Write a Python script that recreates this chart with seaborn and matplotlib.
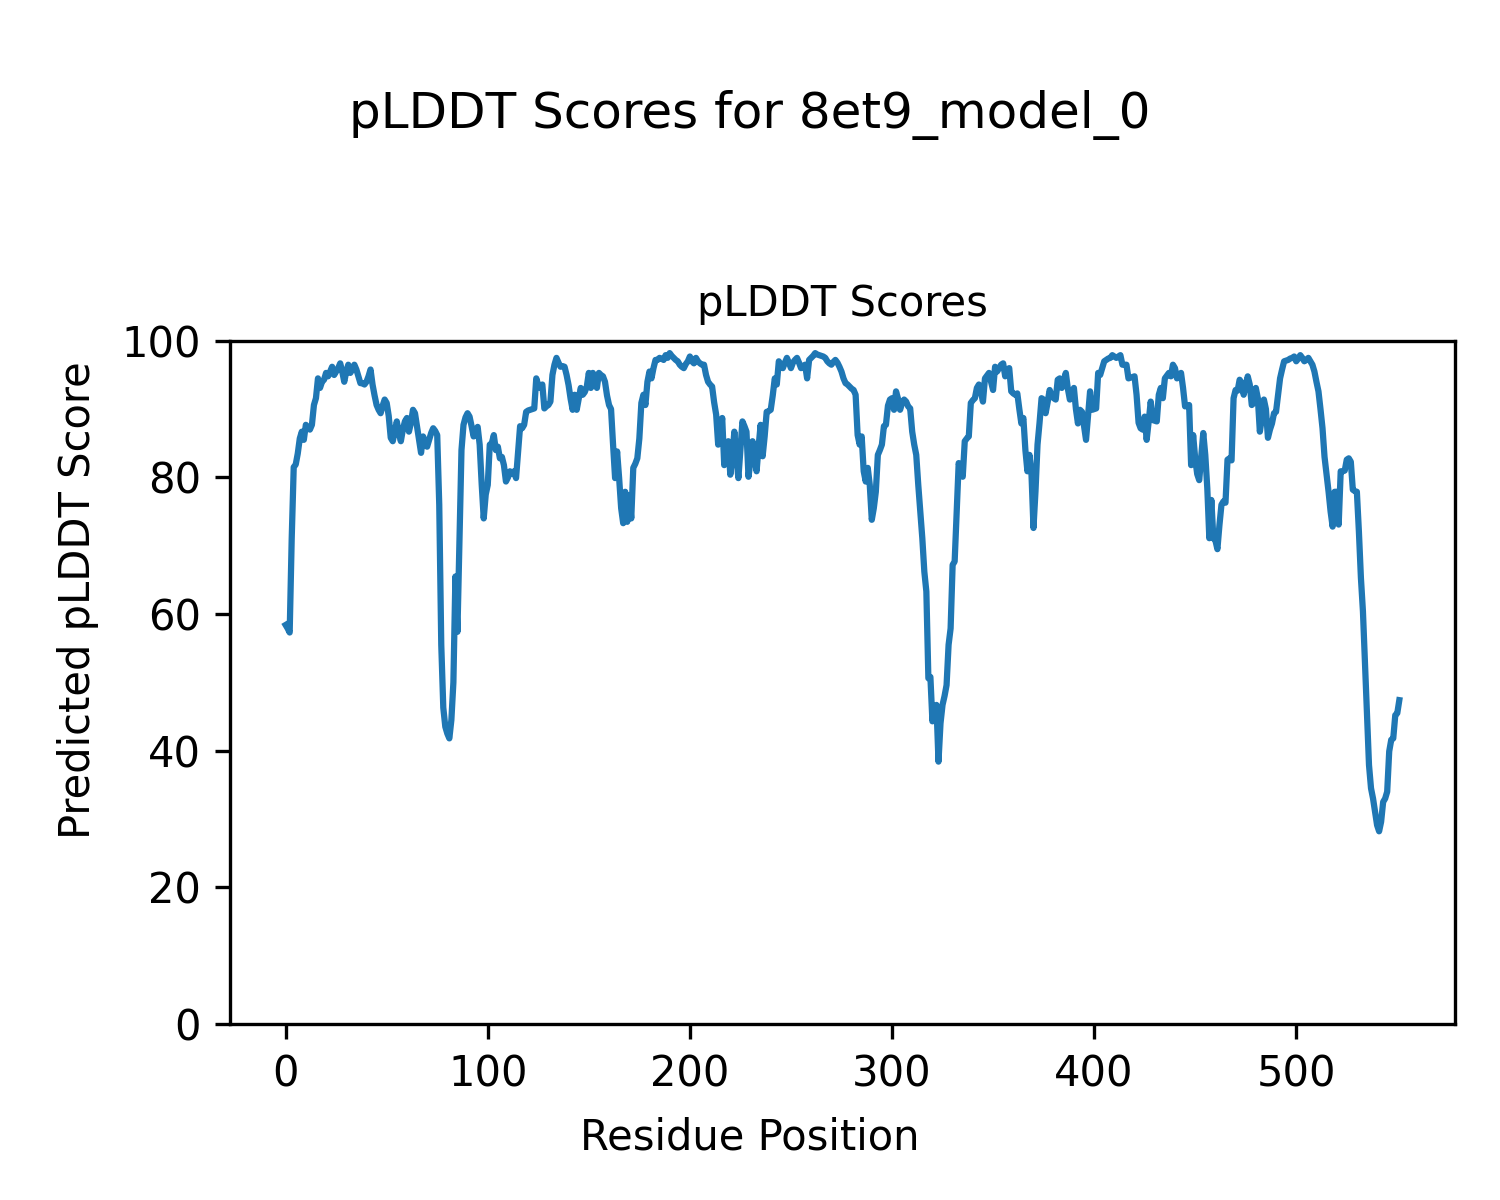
import matplotlib
matplotlib.use('Agg')

import seaborn as sns
import matplotlib.pyplot as plt

model_name = "8et9_model_0"

# pLDDT per residue
scores = [
    58.4, 57.9, 57.3, 71.0, 81.5, 81.9, 83.5, 85.7, 86.7, 85.5,
    87.7, 87.3, 87.0, 87.7, 90.6, 91.6, 94.5, 93.1, 94.0, 94.3,
    95.3, 94.8, 95.5, 96.2, 95.0, 95.5, 96.0, 96.7, 95.5, 94.0,
    95.5, 96.5, 95.3, 95.8, 96.5, 95.8, 94.8, 93.8, 93.8, 93.6,
    94.0, 94.8, 95.8, 93.6, 92.0, 90.6, 89.9, 89.4, 90.5, 91.4,
    90.9, 89.0, 85.8, 85.3, 86.8, 88.2, 86.5, 85.3, 87.0, 88.2,
    88.7, 86.7, 88.0, 89.9, 89.4, 87.5, 85.5, 83.6, 86.0, 85.2,
    84.5, 85.5, 86.5, 87.2, 86.8, 86.2, 76.0, 55.5, 46.3, 43.5,
    42.5, 41.8, 44.5, 50.0, 65.5, 57.4, 70.5, 84.0, 87.7, 88.8,
    89.4, 88.9, 87.5, 86.0, 86.8, 87.4, 84.8, 79.0, 74.0, 77.5,
    78.9, 84.8, 85.0, 86.2, 84.0, 84.5, 82.8, 83.0, 81.8, 79.4,
    80.0, 80.9, 80.5, 80.9, 79.9, 83.8, 87.5, 87.2, 87.7, 89.6,
    89.8, 89.9, 90.0, 90.1, 94.5, 93.5, 93.1, 93.6, 90.1, 90.4,
    90.6, 91.1, 95.0, 96.5, 97.5, 96.8, 96.2, 96.3, 96.2, 95.0,
    93.5, 91.5, 89.9, 92.1, 89.9, 91.5, 93.1, 92.1, 92.5, 93.3,
    95.3, 93.1, 95.3, 94.0, 93.1, 95.3, 95.0, 94.8, 94.0, 92.0,
    90.6, 90.0, 84.8, 79.9, 83.8, 79.9, 75.5, 73.3, 77.9, 73.5,
    77.4, 74.0, 81.4, 82.0, 82.8, 85.7, 90.9, 92.1, 90.6, 94.0,
    95.5, 94.5, 96.0, 97.2, 97.2, 97.5, 97.4, 97.2, 97.9, 97.5,
    98.2, 97.8, 97.5, 97.2, 97.0, 96.5, 96.2, 96.0, 96.6, 97.0,
    97.7, 97.0, 96.7, 97.5, 97.0, 96.7, 96.5, 96.5, 95.0, 94.0,
    93.6, 93.3, 91.0, 89.2, 84.8, 86.5, 88.7, 81.8, 83.5, 85.3,
    80.4, 83.0, 86.7, 83.0, 79.9, 84.0, 88.2, 87.5, 86.7, 80.1,
    82.5, 85.3, 83.0, 80.9, 84.5, 87.7, 83.1, 86.0, 89.6, 89.7,
    89.9, 92.0, 94.5, 93.6, 97.0, 96.5, 96.0, 96.8, 97.5, 96.8,
    96.0, 96.8, 97.2, 97.5, 96.8, 96.0, 96.3, 96.5, 94.5, 97.2,
    97.5, 97.8, 98.2, 98.0, 97.9, 97.8, 97.7, 97.5, 97.0, 96.7,
    96.5, 96.9, 97.2, 96.8, 96.2, 95.5, 94.5, 93.8, 93.6, 93.3,
    93.0, 92.8, 92.1, 86.2, 84.8, 86.0, 80.9, 79.4, 81.4, 78.9,
    73.8, 75.5, 77.9, 83.3, 84.0, 84.8, 87.5, 87.7, 90.5, 91.4,
    91.6, 89.9, 92.6, 91.5, 89.9, 90.9, 91.4, 91.1, 90.4, 90.1,
    86.7, 84.8, 83.3, 78.9, 75.0, 71.1, 66.2, 63.3, 50.6, 50.8,
    44.3, 46.5, 46.7, 38.4, 44.0, 46.7, 48.0, 49.6, 55.5, 57.9,
    67.2, 67.7, 75.0, 82.1, 81.0, 80.1, 85.3, 85.7, 86.0, 90.9,
    91.3, 91.6, 93.1, 93.6, 92.5, 91.1, 94.5, 94.9, 95.3, 94.0,
    92.8, 96.2, 95.5, 96.0, 96.5, 96.7, 94.8, 95.8, 96.0, 92.6,
    92.3, 92.1, 92.3, 90.0, 87.9, 88.7, 84.0, 80.9, 83.3, 80.6,
    72.6, 78.0, 84.8, 88.0, 91.6, 91.4, 89.4, 91.0, 92.8, 92.0,
    91.6, 91.4, 94.3, 94.5, 93.1, 94.2, 95.3, 93.0, 91.4, 91.6,
    93.1, 90.0, 87.9, 89.9, 89.6, 87.5, 85.5, 89.0, 92.6, 89.9,
    90.0, 90.1, 95.3, 95.0, 96.0, 97.0, 97.2, 97.4, 97.5, 97.9,
    97.7, 97.5, 97.7, 97.9, 96.5, 96.5, 96.5, 94.5, 94.6, 94.7,
    94.8, 92.1, 88.0, 87.2, 87.0, 88.9, 85.5, 88.2, 91.1, 88.4,
    88.3, 88.2, 92.1, 93.1, 91.6, 94.5, 94.9, 95.3, 94.8, 96.5,
    96.0, 94.5, 94.9, 95.3, 93.1, 90.4, 90.5, 90.6, 81.8, 86.2,
    82.8, 80.5, 79.6, 83.0, 86.5, 83.3, 78.4, 71.1, 76.7, 71.1,
    70.8, 69.5, 73.0, 76.0, 76.5, 76.3, 82.6, 82.8, 82.5, 91.6,
    92.8, 92.7, 94.3, 93.8, 92.1, 93.5, 94.8, 93.6, 90.6, 90.9,
    93.1, 91.6, 86.7, 88.7, 91.4, 90.0, 85.8, 87.0, 87.9, 89.4,
    89.6, 92.0, 94.5, 95.8, 97.0, 97.1, 97.2, 97.4, 97.5, 97.7,
    97.0, 97.4, 97.9, 97.5, 97.0, 97.2, 97.5, 97.0, 96.5, 95.5,
    94.0, 92.6, 90.0, 87.2, 83.0, 80.5, 77.9, 75.0, 72.8, 77.9,
    77.9, 73.1, 80.9, 80.9, 81.0, 82.6, 82.8, 82.3, 78.2, 78.0,
    77.9, 72.1, 65.3, 60.4, 53.0, 45.7, 37.9, 34.5, 33.0, 31.1,
    29.1, 28.2, 29.6, 32.5, 33.0, 34.0, 39.9, 41.6, 41.8, 45.2,
    45.5, 47.4,
]
residues = list(range(len(scores)))

fig, ax = plt.subplots(figsize=(5, 4), dpi=300)
sns.lineplot(x=residues, y=scores, ax=ax, color='#1f77b4', linewidth=1.5)

ax.set_ylim(0, 100)
ax.set_title("pLDDT Scores", fontsize=10)
fig.suptitle("pLDDT Scores for " + model_name, fontsize=12, y=0.925)
# axis labels are figure-level (centred on the figure, not the axes)
fig.supxlabel("Residue Position", fontsize=10, y=0.035)
fig.supylabel("Predicted pLDDT Score", fontsize=10, x=0.038)

plt.subplots_adjust(left=0.1533, right=0.97, bottom=0.1467, top=0.716)
plt.savefig('out.png', dpi=300)
plt.close()
